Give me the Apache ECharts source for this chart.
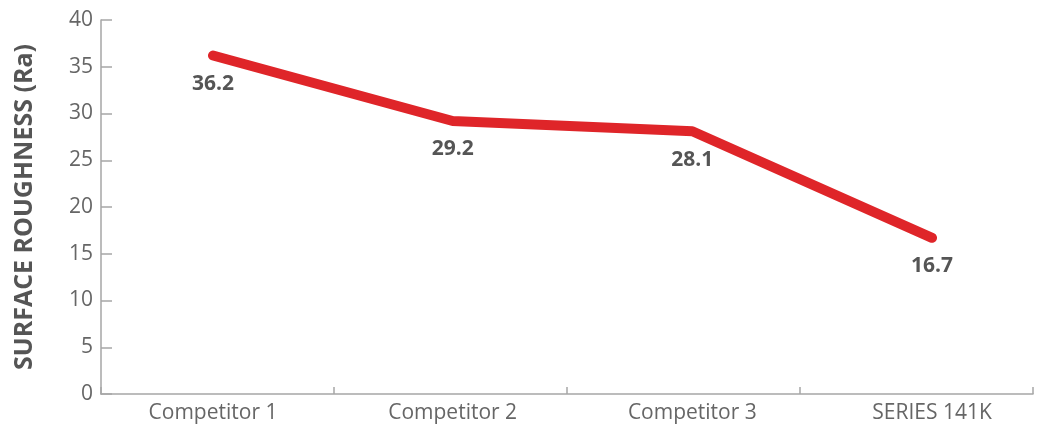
<!DOCTYPE html>
<html>
<head>
<meta charset="utf-8">
<script src="https://cdn.jsdelivr.net/npm/echarts@6/dist/echarts.min.js"></script>
<style>
html,body{margin:0;padding:0;background:#fff;}
#chart{width:1039px;height:430px;}
</style>
</head>
<body>
<div id="chart"></div>
<script>
const categories = ['Competitor 1', 'Competitor 2', 'Competitor 3', 'SERIES 141K'];
const roughness = [36.2, 29.2, 28.1, 16.7];
const yTicks = {min: 0, max: 40, interval: 5};
const yName = 'SURFACE ROUGHNESS (Ra)';

const chart = echarts.init(document.getElementById('chart'));
const font = '"Open Sans", "Noto Sans", sans-serif';
chart.setOption({
  animation: false,
  backgroundColor: '#ffffff',
  grid: [
    {left: 101, right: 6, top: 20, bottom: 36},
    {left: 213, right: 107, top: 20, bottom: 36}
  ],
  xAxis: [
    {
      gridIndex: 0, type: 'category', data: categories, boundaryGap: true,
      axisLine: {lineStyle: {color: '#a6a6a6', width: 1.5}},
      axisTick: {show: true, inside: true, length: 7, lineStyle: {color: '#a6a6a6', width: 1.5}},
      axisLabel: {show: false}
    },
    {
      gridIndex: 1, type: 'category', data: categories, boundaryGap: false,
      axisLine: {show: false}, axisTick: {show: false},
      axisLabel: {margin: 9, color: '#666666', fontSize: 21, fontFamily: font}
    }
  ],
  yAxis: [
    {
      gridIndex: 0, type: 'value', min: yTicks.min, max: yTicks.max, interval: yTicks.interval,
      name: yName, nameLocation: 'middle', nameGap: 64, nameRotate: 90,
      nameTextStyle: {color: '#555555', fontSize: 25, fontWeight: 'bold', fontFamily: font},
      axisLine: {show: true, lineStyle: {color: '#a6a6a6', width: 1.5}},
      axisTick: {show: true, inside: true, length: 11, lineStyle: {color: '#a6a6a6', width: 1.5}},
      axisLabel: {margin: 8, color: '#666666', fontSize: 21, fontFamily: font},
      splitLine: {show: false}
    },
    {
      gridIndex: 1, type: 'value', min: yTicks.min, max: yTicks.max, interval: yTicks.interval,
      show: false
    }
  ],
  series: [{
    type: 'line', xAxisIndex: 1, yAxisIndex: 1, data: roughness,
    symbol: 'circle', symbolSize: 2, showSymbol: true,
    itemStyle: {color: '#df2529'},
    lineStyle: {color: '#df2529', width: 10, cap: 'round', join: 'round'},
    label: {
      show: true, position: 'bottom', distance: 17,
      color: '#555555', fontSize: 21, fontWeight: 'bold', fontFamily: font
    }
  }]
});
</script>
</body>
</html>
